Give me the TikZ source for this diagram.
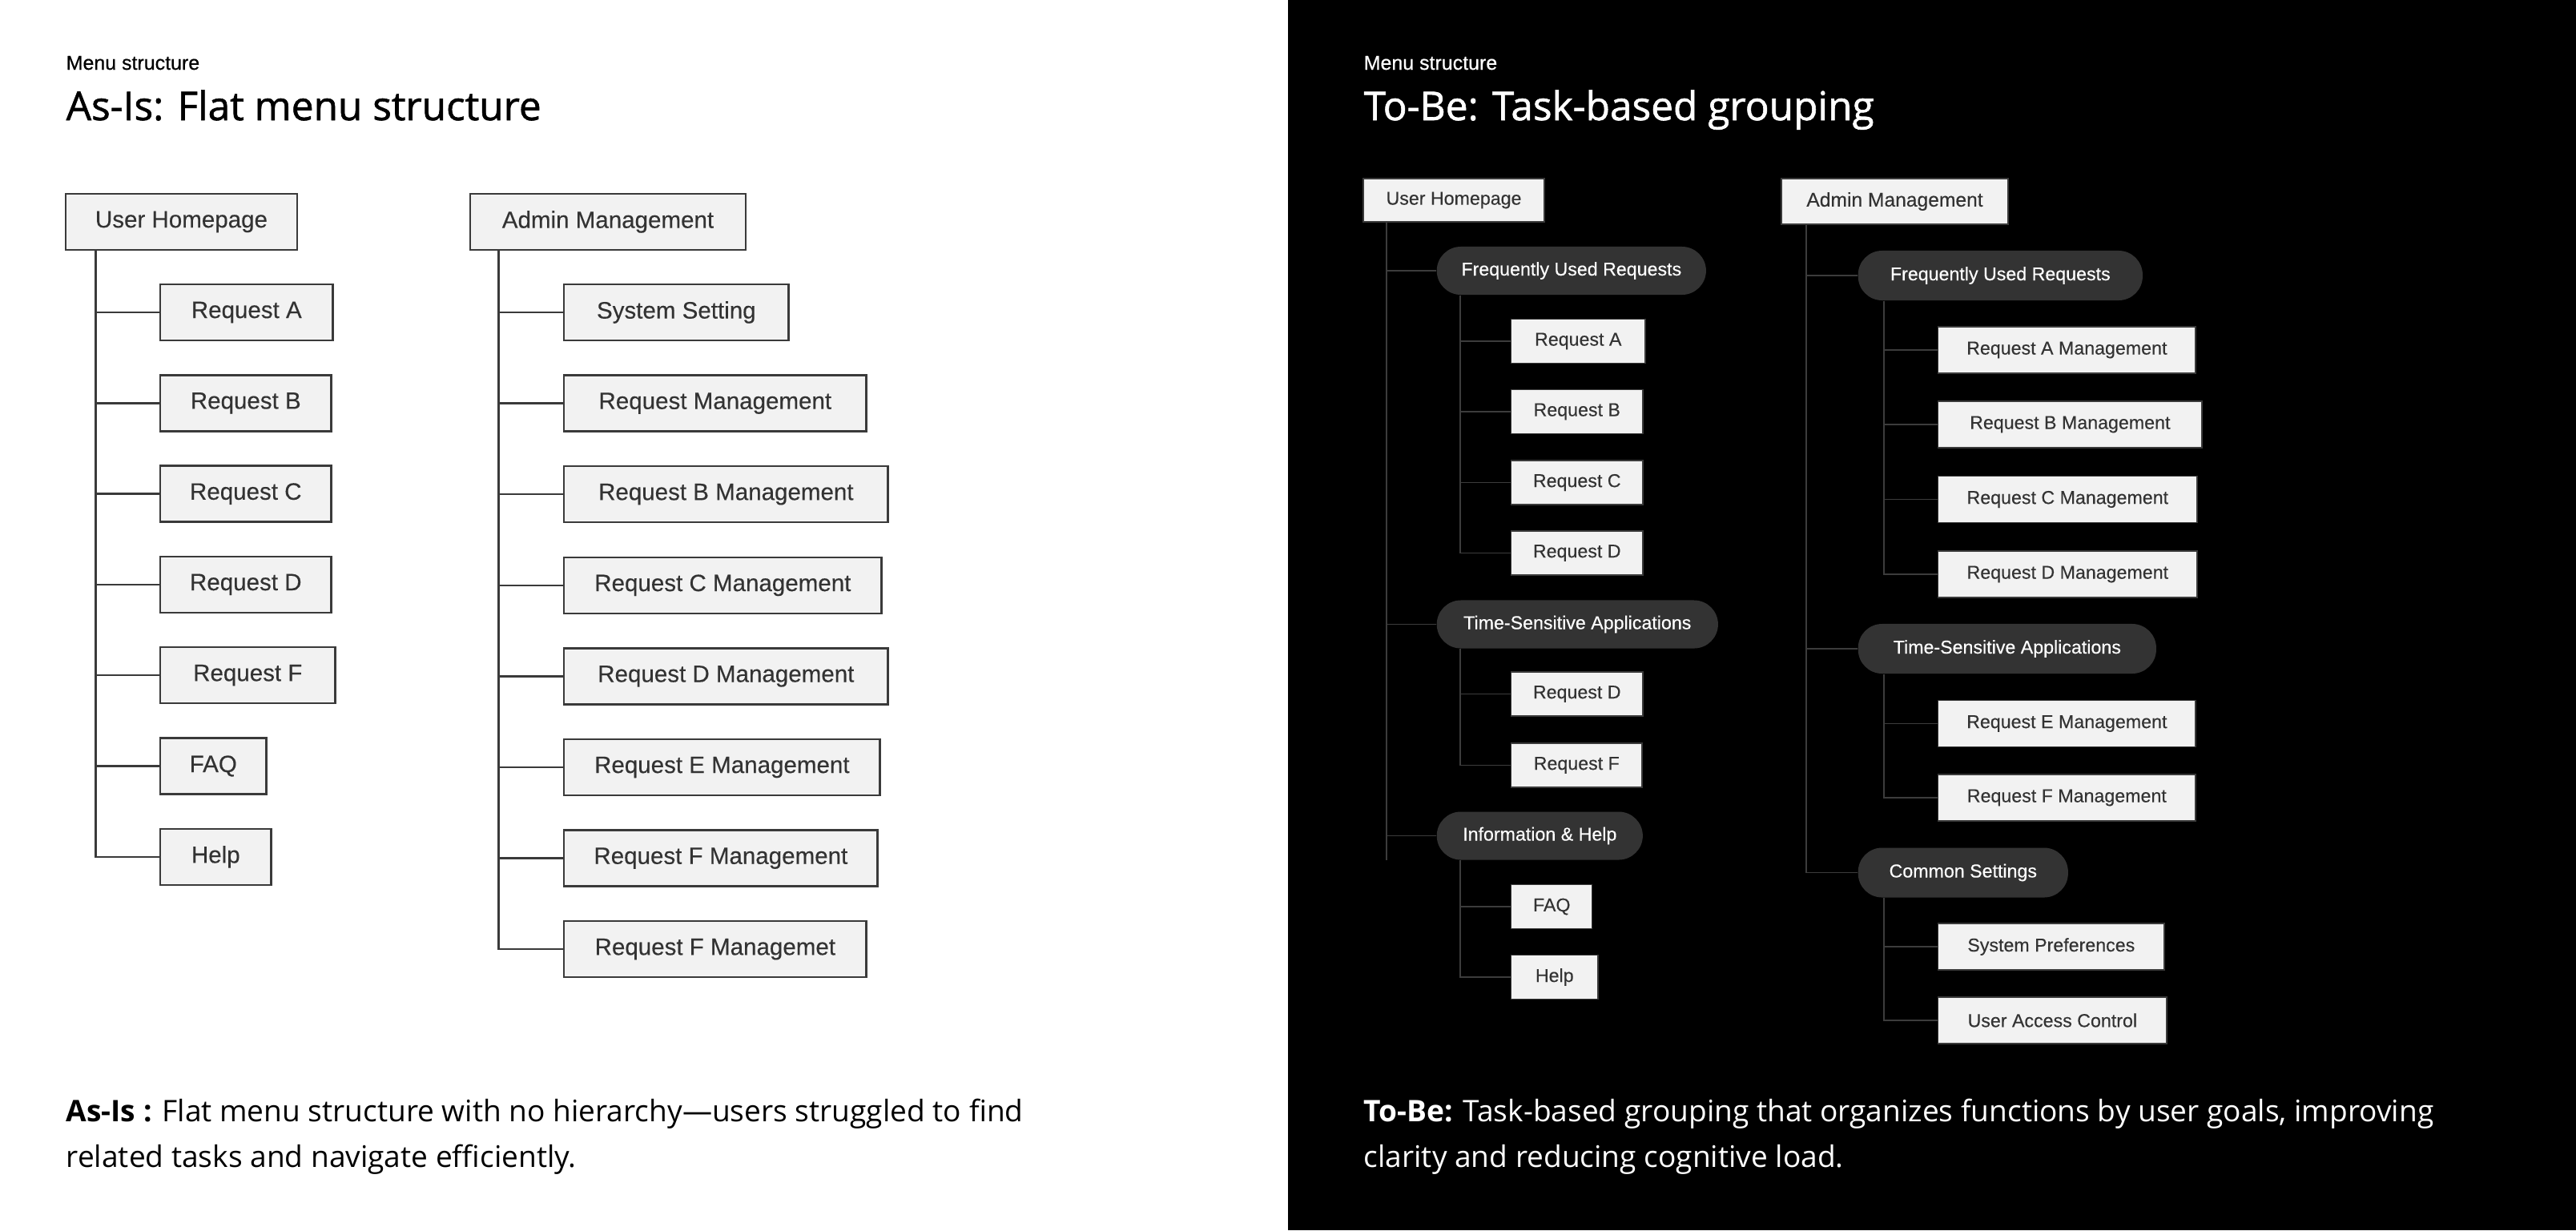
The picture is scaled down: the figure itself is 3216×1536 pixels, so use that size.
\documentclass[tikz,border=0pt]{standalone}
\usepackage{fontspec}
\setmainfont{Open Sans}
\newfontfamily\uifont[FakeBold=0.25]{Liberation Sans}
\newfontfamily\uimed[FakeBold=0.5]{Liberation Sans}
\newfontfamily\headfont[FakeBold=1.2]{Open Sans}
\definecolor{menuFill}{HTML}{F2F2F2}
\definecolor{menuLine}{HTML}{3A3A3A}
\definecolor{menuText}{HTML}{333333}
\definecolor{pillGray}{HTML}{333333}
\definecolor{darkLink}{HTML}{3C3C3C}
\usetikzlibrary{positioning}

\begin{document}
\begin{tikzpicture}[
  x=0.01cm, y=-0.01cm,
  kicker/.style={anchor=base west, inner sep=0pt, font=\uimed\fontsize{7.1}{8}\selectfont},
  heading/.style={anchor=base west, inner sep=0pt, font=\headfont\fontsize{14.1}{16}\selectfont},
  desc/.style={anchor=north west, inner sep=0pt, align=left, font=\fontsize{10.55}{16.2}\selectfont},
  lbox/.style={draw=menuLine, line width=0.7pt, fill=menuFill, text=menuText,
    minimum height=0.7cm, inner sep=0pt, font=\uifont\fontsize{8.4}{10}\selectfont},
  rbox/.style={draw=menuLine, line width=0.4pt, fill=menuFill, text=menuText,
    inner sep=0pt, font=\uifont\fontsize{6.6}{8}\selectfont},
  pill/.style={fill=pillGray, text=white, rounded corners=0.3cm, inner sep=0pt,
    font=\uifont\fontsize{6.6}{8}\selectfont},
  llink/.style={draw=menuLine, line width=0.7pt},
  rlink/.style={draw=darkLink, line width=0.45pt}]
  \useasboundingbox (0,0) rectangle (3216,1536);
  % Panels
  \fill[white] (0,0) rectangle (1608,1536);
  \fill[black] (1608,0) rectangle (3216,1536);

  % ---------- As-Is ----------
  \node[kicker] (lkick) at (82,87) {Menu structure};
  \node[heading] (ltitle) at (82,150) {As-Is: Flat menu structure};
  \node[lbox, minimum width=2.89cm] (luh) at (226.5,277) {User Homepage};
  \node[lbox, minimum width=3.44cm] (lam) at (759,277) {Admin Management};
  \coordinate (luhT) at ([xshift=0.39cm]luh.south west);
  \coordinate (lamT) at ([xshift=0.37cm]lam.south west);
  % User side
  \foreach \nm/\txt/\w [count=\i from 0] in {lra/Request A/2.15, lrb/Request B/2.13,
      lrc/Request C/2.13, lrd/Request D/2.13, lrf/Request F/2.18, lfaq/FAQ/1.32, lhelp/Help/1.38} {
    \node[lbox, anchor=west, minimum width=\w cm] (\nm) at (199,390+113.3*\i) {\txt};
    \draw[llink] (luhT) |- (\nm.west);
  }
  % Admin side
  \foreach \nm/\txt/\w [count=\i from 0] in {lss/System Setting/2.80, lrm/Request Management/3.77,
      lbm/Request B Management/4.04, lcm/Request C Management/3.96, ldm/Request D Management/4.04,
      lem/Request E Management/3.94, lfm/Request F Management/3.91, lfx/Request F Managemet/3.77} {
    \node[lbox, anchor=west, minimum width=\w cm] (\nm) at (703,390+113.6*\i) {\txt};
    \draw[llink] (lamT) |- (\nm.west);
  }
  \node[desc, text=black] (ldesc) at (82,1371)
    {\textbf{As-Is :} Flat menu structure with no hierarchy---users struggled to find\\
     related tasks and navigate efficiently.};

  % ---------- To-Be ----------
  \node[kicker, text=white] (rkick) at (1702,87) {Menu structure};
  \node[heading, text=white] (rtitle) at (1702,150) {To-Be: Task-based grouping};
  \node[rbox, minimum width=2.26cm, minimum height=0.54cm] (ruh) at (1815,250) {User Homepage};
  \node[rbox, minimum width=2.83cm, minimum height=0.57cm, font=\uifont\fontsize{7}{8}\selectfont]
    (ram) at (2365.5,251.5) {Admin Management};
  \coordinate (ruhT) at ([xshift=0.30cm]ruh.south west);
  \coordinate (ramT) at ([xshift=0.32cm]ram.south west);

  % User groups
  \node[pill, anchor=west, minimum width=3.36cm, minimum height=0.6cm] (ufr) at (1793,338) {Frequently Used Requests};
  \node[pill, anchor=west, minimum width=3.51cm, minimum height=0.6cm] (uts) at (1793,779.5) {Time-Sensitive Applications};
  \node[pill, anchor=west, minimum width=2.57cm, minimum height=0.6cm] (uih) at (1793,1043.5) {Information \& Help};
  \draw[rlink] (ruhT) -- (ruhT |- uih.south);
  \foreach \g in {ufr,uts,uih} {
    \draw[rlink] (ruhT) |- (\g.west);
    \coordinate (\g T) at ([xshift=0.30cm]\g.south west);
  }
  \foreach \nm/\txt/\w/\y in {ura/Request A/1.67/426, urb/Request B/1.64/514,
      urc/Request C/1.64/602.5, urd/Request D/1.64/690.5} {
    \node[rbox, anchor=west, minimum width=\w cm, minimum height=0.55cm] (\nm) at (1886,\y) {\txt};
    \draw[rlink] (ufrT) |- (\nm.west);
  }
  \foreach \nm/\txt/\w/\y in {utd/Request D/1.64/866.5, utf/Request F/1.63/955.5} {
    \node[rbox, anchor=west, minimum width=\w cm, minimum height=0.55cm] (\nm) at (1886,\y) {\txt};
    \draw[rlink] (utsT) |- (\nm.west);
  }
  \foreach \nm/\txt/\w/\y in {ufaq/FAQ/1.01/1132, uhelp/Help/1.08/1220} {
    \node[rbox, anchor=west, minimum width=\w cm, minimum height=0.55cm] (\nm) at (1886,\y) {\txt};
    \draw[rlink] (uihT) |- (\nm.west);
  }

  % Admin groups
  \begin{scope}[every node/.append style={font=\uifont\fontsize{7}{8}\selectfont}]
  \node[pill, anchor=west, minimum width=3.55cm, minimum height=0.62cm] (afr) at (2319,344) {Frequently Used Requests};
  \node[pill, anchor=west, minimum width=3.72cm, minimum height=0.62cm] (ats) at (2319,810) {Time-Sensitive Applications};
  \node[pill, anchor=west, minimum width=2.62cm, minimum height=0.62cm] (acs) at (2319,1089.5) {Common Settings};
  \foreach \g in {afr,ats,acs} {
    \draw[rlink] (ramT) |- (\g.west);
    \coordinate (\g T) at ([xshift=0.33cm]\g.south west);
  }
  \foreach \nm/\txt/\w/\y in {aam/Request A Management/3.21/437, abm/Request B Management/3.29/530,
      acm/Request C Management/3.23/623.5, adm/Request D Management/3.23/717} {
    \node[rbox, anchor=west, minimum width=\w cm, minimum height=0.58cm] (\nm) at (2419,\y) {\txt};
    \draw[rlink] (afrT) |- (\nm.west);
  }
  \foreach \nm/\txt/\w/\y in {aem/Request E Management/3.21/903.5, afm/Request F Management/3.21/996} {
    \node[rbox, anchor=west, minimum width=\w cm, minimum height=0.58cm] (\nm) at (2419,\y) {\txt};
    \draw[rlink] (atsT) |- (\nm.west);
  }
  \foreach \nm/\txt/\w/\y in {asp/System Preferences/2.82/1182, auac/User Access Control/2.85/1274} {
    \node[rbox, anchor=west, minimum width=\w cm, minimum height=0.58cm] (\nm) at (2419,\y) {\txt};
    \draw[rlink] (acsT) |- (\nm.west);
  }
  \end{scope}
  \node[desc, text=white] (rdesc) at (1702,1371)
    {\textbf{To-Be:} Task-based grouping that organizes functions by user goals, improving\\
     clarity and reducing cognitive load.};
\end{tikzpicture}
\end{document}
